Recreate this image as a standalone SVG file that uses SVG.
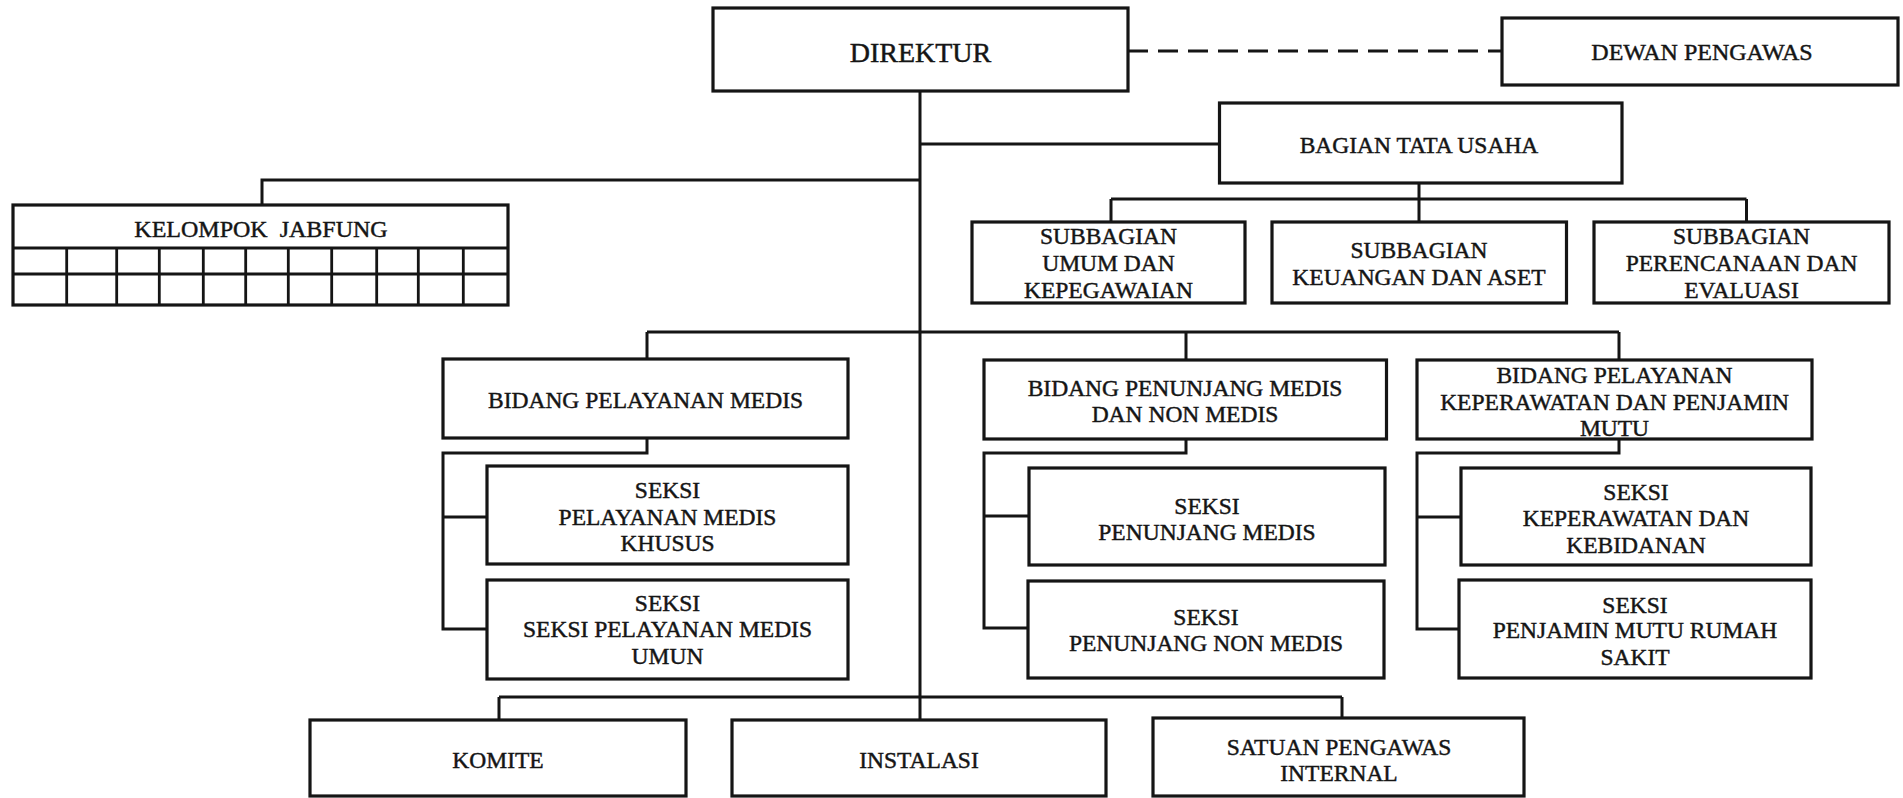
<svg xmlns="http://www.w3.org/2000/svg" width="1903" height="798" viewBox="0 0 1903 798">
<style>
.box{fill:#fff;stroke:#151515;stroke-width:3.2}
.ln{fill:none;stroke:#151515;stroke-width:3}
.dash{fill:none;stroke:#151515;stroke-width:3;stroke-dasharray:20 10}
.grid{fill:none;stroke:#151515;stroke-width:2.8}
text{font-family:"Liberation Serif","DejaVu Serif",serif;font-size:23.5px;fill:#151515;stroke:#151515;stroke-width:0.45;text-anchor:middle;dominant-baseline:central}
.big{font-size:28px}
</style>
<rect width="1903" height="798" fill="#fff"/>
<g id="connectors">
<path class="ln" d="M920 91 V720"/>
<path class="ln" d="M920 144 H1219.5"/>
<path class="ln" d="M920 180 H262 V205"/>
<path class="dash" d="M1128 51 H1502"/>
<path class="ln" d="M1419 183 V199 M1111 199 H1746.5 M1111 199 V222 M1419 199 V222 M1746.5 199 V222"/>
<path class="ln" d="M647 332 H1619 M647 332 V359 M1186 332 V360 M1619 332 V360"/>
<path class="ln" d="M647 438 V453 H443 V629 H487 M443 517 H487"/>
<path class="ln" d="M1186 439 V453 H984 V628 H1028 M984 516 H1029"/>
<path class="ln" d="M1619 439 V453 H1417 V629 H1459 M1417 517 H1461"/>
<path class="ln" d="M499 697 H1342 M499 697 V720 M1342 697 V718"/>
</g>
<g id="direktur"><rect class="box" x="713" y="8" width="415" height="83"/><text class="big" x="920.5" y="52.5">DIREKTUR</text></g>
<g id="dewan-pengawas"><rect class="box" x="1502" y="18" width="396" height="67"/><text x="1702" y="52" style="font-size:24px">DEWAN PENGAWAS</text></g>
<g id="bagian-tata-usaha"><rect class="box" x="1219.5" y="103" width="402.5" height="80"/><text x="1419" y="145">BAGIAN TATA USAHA</text></g>
<g id="sub-umum"><rect class="box" x="972" y="222" width="273" height="81"/><text x="1108.5" y="236">SUBBAGIAN</text><text x="1108.5" y="263">UMUM DAN</text><text x="1108.5" y="290">KEPEGAWAIAN</text></g>
<g id="sub-keuangan"><rect class="box" x="1272" y="222" width="294.5" height="81"/><text x="1419" y="250">SUBBAGIAN</text><text x="1419" y="277">KEUANGAN DAN ASET</text></g>
<g id="sub-perencanaan"><rect class="box" x="1594" y="222" width="295" height="81"/><text x="1741.5" y="236">SUBBAGIAN</text><text x="1741.5" y="263">PERENCANAAN DAN</text><text x="1741.5" y="290">EVALUASI</text></g>
<g id="kelompok-jabfung">
<rect class="box" x="13" y="205" width="495" height="100"/>
<path class="grid" d="M13 248 H508 M13 274 H508 M66.7 248 V305 M116.7 248 V305 M159.3 248 V305 M203.3 248 V305 M245.7 248 V305 M288.3 248 V305 M331.7 248 V305 M376.7 248 V305 M418.3 248 V305 M463.3 248 V305"/>
<text x="261" y="229" style="font-size:24px" xml:space="preserve">KELOMPOK  JABFUNG</text>
</g>
<g id="bidang-pelayanan-medis"><rect class="box" x="443" y="359" width="405" height="79"/><text x="645.5" y="400">BIDANG PELAYANAN MEDIS</text></g>
<g id="bidang-penunjang"><rect class="box" x="984" y="360" width="402.5" height="79"/><text x="1185" y="388">BIDANG PENUNJANG MEDIS</text><text x="1185" y="414">DAN NON MEDIS</text></g>
<g id="bidang-keperawatan"><rect class="box" x="1417" y="360" width="395" height="79"/><text x="1614.5" y="375">BIDANG PELAYANAN</text><text x="1614.5" y="402">KEPERAWATAN DAN PENJAMIN</text><text x="1614.5" y="428">MUTU</text></g>
<g id="seksi-medis-khusus"><rect class="box" x="487" y="466" width="361" height="98"/><text x="667.5" y="490">SEKSI</text><text x="667.5" y="517">PELAYANAN MEDIS</text><text x="667.5" y="543">KHUSUS</text></g>
<g id="seksi-medis-umun"><rect class="box" x="487" y="580" width="361" height="99"/><text x="667.5" y="603">SEKSI</text><text x="667.5" y="629">SEKSI PELAYANAN MEDIS</text><text x="667.5" y="656">UMUN</text></g>
<g id="seksi-penunjang-medis"><rect class="box" x="1029" y="468" width="356" height="97"/><text x="1207" y="506">SEKSI</text><text x="1207" y="532">PENUNJANG MEDIS</text></g>
<g id="seksi-penunjang-non-medis"><rect class="box" x="1028" y="581" width="356" height="97"/><text x="1206" y="617">SEKSI</text><text x="1206" y="643">PENUNJANG NON MEDIS</text></g>
<g id="seksi-keperawatan"><rect class="box" x="1461" y="468" width="350" height="97"/><text x="1636" y="492">SEKSI</text><text x="1636" y="518">KEPERAWATAN DAN</text><text x="1636" y="545">KEBIDANAN</text></g>
<g id="seksi-penjamin-mutu"><rect class="box" x="1459" y="580" width="352" height="98"/><text x="1635" y="605">SEKSI</text><text x="1635" y="630">PENJAMIN MUTU RUMAH</text><text x="1635" y="657">SAKIT</text></g>
<g id="komite"><rect class="box" x="310" y="720" width="376" height="76"/><text x="498" y="760">KOMITE</text></g>
<g id="instalasi"><rect class="box" x="732" y="720" width="374" height="76"/><text x="919" y="760">INSTALASI</text></g>
<g id="satuan-pengawas-internal"><rect class="box" x="1153" y="718" width="371" height="78"/><text x="1339" y="747">SATUAN PENGAWAS</text><text x="1339" y="773">INTERNAL</text></g>
</svg>
